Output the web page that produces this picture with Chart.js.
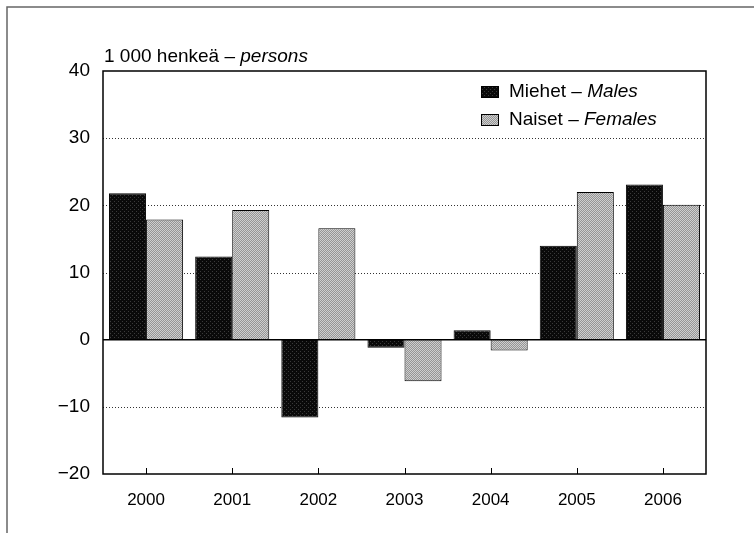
<!DOCTYPE html>
<html>
<head>
<meta charset="utf-8">
<script src="https://cdn.jsdelivr.net/npm/chart.js@4.4.1/dist/chart.umd.min.js"></script>
<style>
    body { margin: 0; background: #fff; }
    #wrap { width: 754px; height: 533px; position: relative; }
</style>
</head>
<body>
<div id="wrap"><canvas id="chart"></canvas></div>
<script>
// data (1 000 persons)
const years = ['2000', '2001', '2002', '2003', '2004', '2005', '2006'];
const males = [21.8, 12.4, -11.6, -1.2, 1.4, 14.0, 23.1];
const females = [17.9, 19.3, 16.6, -6.2, -1.6, 22.0, 20.1];
const yTicks = [-20, -10, 0, 10, 20, 30, 40];

const FONT = '"Liberation Sans", Arial, Helvetica, sans-serif';

// small dither patterns to mimic the printed raster
function makePattern(dark, light, mask) {
    const c = document.createElement('canvas');
    c.width = 4; c.height = 4;
    const g = c.getContext('2d');
    for (let y = 0; y < 4; y++) {
        for (let x = 0; x < 4; x++) {
            g.fillStyle = mask[y][x] ? light : dark;
            g.fillRect(x, y, 1, 1);
        }
    }
    return g.createPattern(c, 'repeat');
}

const malePattern = makePattern('#0a0a0a', '#3a3a3a', [
    [0, 0, 0, 0],
    [0, 0, 1, 0],
    [0, 0, 0, 0],
    [1, 0, 0, 0]
]);
const femalePattern = makePattern('#959595', '#cfcfcf', [
    [1, 0, 1, 0],
    [0, 1, 0, 1],
    [1, 0, 1, 0],
    [0, 1, 0, 1]
]);

const decorations = {
    id: 'decorations',
    beforeDatasetsDraw(chart) {
        const ctx = chart.ctx;
        const area = chart.chartArea;
        const y = chart.scales.y;
        ctx.save();
        // dotted grid lines
        ctx.strokeStyle = '#333';
        ctx.lineWidth = 1;
        ctx.setLineDash([1, 2]);
        yTicks.forEach(v => {
            if (v === 0 || v === yTicks[0] || v === yTicks[yTicks.length - 1]) return;
            const py = Math.round(y.getPixelForValue(v)) + 0.5;
            ctx.beginPath();
            ctx.moveTo(area.left, py);
            ctx.lineTo(area.right, py);
            ctx.stroke();
        });
        ctx.restore();
    },
    afterDatasetsDraw(chart) {
        const ctx = chart.ctx;
        const area = chart.chartArea;
        const x = chart.scales.x;
        const y = chart.scales.y;
        ctx.save();

        // zero line
        ctx.strokeStyle = '#000';
        ctx.lineWidth = 1.5;
        const zy = y.getPixelForValue(0);
        ctx.beginPath();
        ctx.moveTo(area.left, zy);
        ctx.lineTo(area.right, zy);
        ctx.stroke();

        // plot frame
        ctx.lineWidth = 1.5;
        ctx.strokeRect(area.left, area.top, area.right - area.left, area.bottom - area.top);

        // inner ticks on the bottom axis
        ctx.lineWidth = 1;
        years.forEach((yr, i) => {
            const px = Math.round(x.getPixelForValue(i)) + 0.5;
            ctx.beginPath();
            ctx.moveTo(px, area.bottom);
            ctx.lineTo(px, area.bottom - 6);
            ctx.stroke();
        });

        // outer frame (top and left only are visible)
        ctx.strokeStyle = '#666';
        ctx.lineWidth = 1.5;
        ctx.beginPath();
        ctx.moveTo(754, 7);
        ctx.lineTo(7, 7);
        ctx.lineTo(7, 533);
        ctx.stroke();

        // unit title
        ctx.fillStyle = '#000';
        ctx.textBaseline = 'alphabetic';
        ctx.textAlign = 'left';
        ctx.font = '19px ' + FONT;
        const part1 = '1 000 henkeä \u2013 ';
        ctx.fillText(part1, area.left + 1, 62);
        const w1 = ctx.measureText(part1).width;
        ctx.font = 'italic 19px ' + FONT;
        ctx.fillText('persons', area.left + 1 + w1, 62);

        // legend
        const items = [
            { fill: malePattern, a: 'Miehet \u2013 ', b: 'Males', cy: 92 },
            { fill: femalePattern, a: 'Naiset \u2013 ', b: 'Females', cy: 120 }
        ];
        items.forEach(it => {
            ctx.fillStyle = it.fill;
            ctx.fillRect(481, it.cy - 6, 18, 12);
            ctx.strokeStyle = '#000';
            ctx.lineWidth = 1;
            ctx.strokeRect(481.5, it.cy - 5.5, 17, 11);
            ctx.fillStyle = '#000';
            ctx.textBaseline = 'middle';
            ctx.font = '19px ' + FONT;
            ctx.fillText(it.a, 509, it.cy);
            const wa = ctx.measureText(it.a).width;
            ctx.font = 'italic 19px ' + FONT;
            ctx.fillText(it.b, 509 + wa, it.cy);
        });

        ctx.restore();
    }
};

new Chart(document.getElementById('chart'), {
    type: 'bar',
    data: {
        labels: years,
        datasets: [
            {
                label: 'Miehet \u2013 Males',
                data: males,
                backgroundColor: malePattern,
                borderColor: '#000',
                borderWidth: 1
            },
            {
                label: 'Naiset \u2013 Females',
                data: females,
                backgroundColor: femalePattern,
                borderColor: '#000',
                borderWidth: 1
            }
        ]
    },
    options: {
        responsive: true,
        maintainAspectRatio: false,
        animation: false,
        categoryPercentage: 0.86,
        barPercentage: 1.0,
        layout: { padding: { top: 71, right: 48, left: 0, bottom: 0 } },
        plugins: {
            legend: { display: false },
            title: { display: false },
            tooltip: { enabled: false }
        },
        scales: {
            x: {
                grid: { display: false, drawTicks: false },
                border: { display: false },
                ticks: {
                    color: '#000',
                    padding: 16,
                    font: { family: FONT, size: 17 }
                },
                afterFit(scale) { scale.height = 59; }
            },
            y: {
                min: yTicks[0],
                max: yTicks[yTicks.length - 1],
                grid: { display: false, drawTicks: false },
                border: { display: false },
                afterBuildTicks(scale) {
                    scale.ticks = yTicks.map(v => ({ value: v }));
                },
                ticks: {
                    color: '#000',
                    padding: 13,
                    font: { family: FONT, size: 19 },
                    callback: v => v < 0 ? '\u2212' + Math.abs(v) : String(v)
                },
                afterFit(scale) { scale.width = 103; }
            }
        }
    },
    plugins: [decorations]
});
</script>
</body>
</html>
